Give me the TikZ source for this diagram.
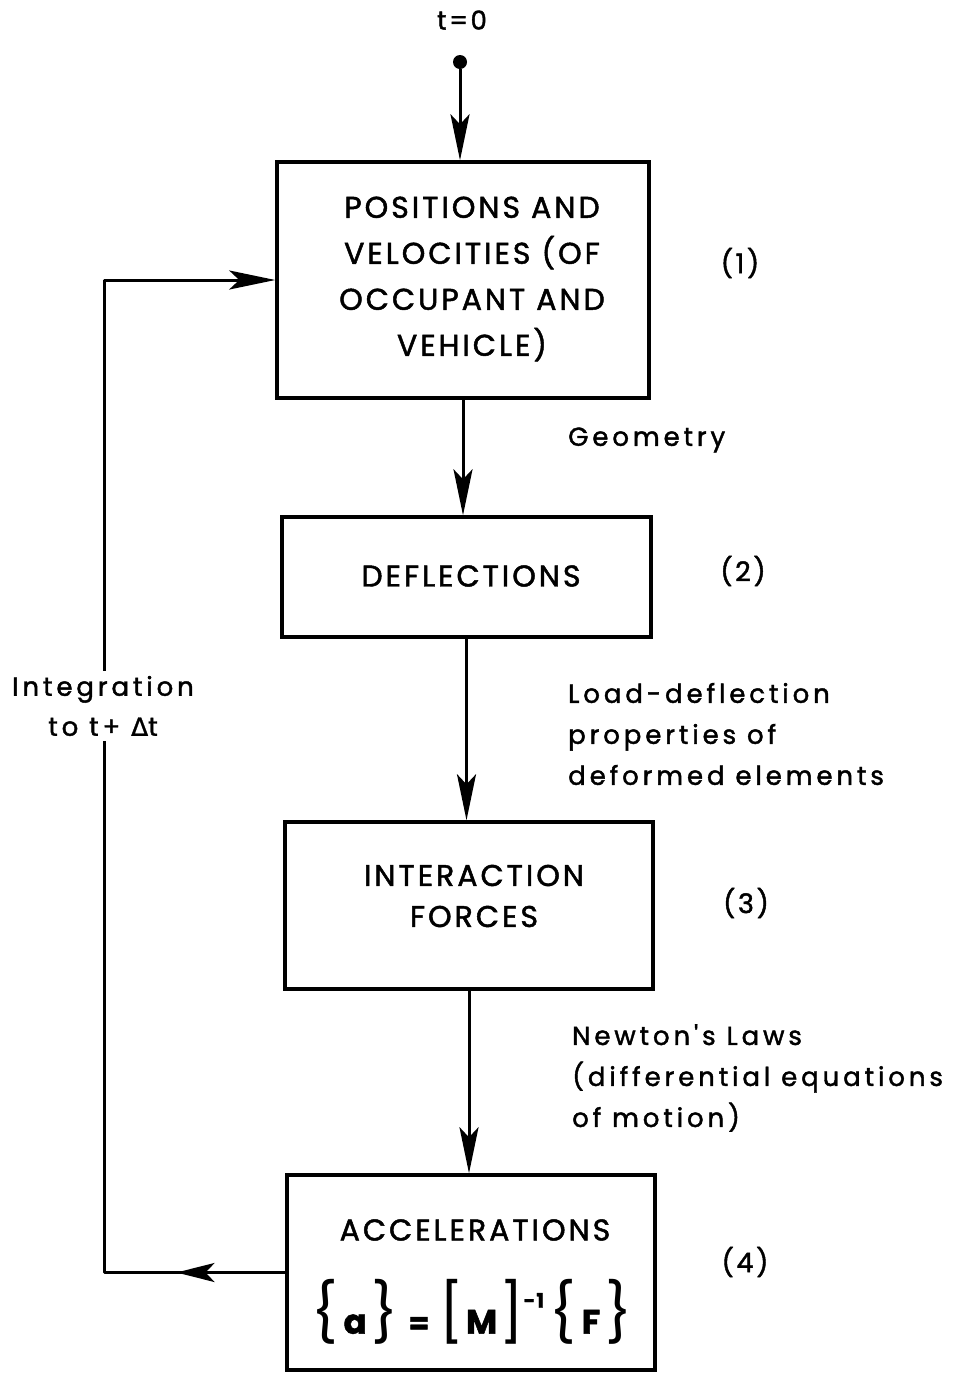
\documentclass[tikz,border=0pt]{standalone}
\usepackage{fontspec}
\setmainfont{Poppins}[LetterSpace=6, FakeBold=1.5]
\newfontfamily\boxfont{Poppins}[LetterSpace=10, FakeBold=1.6]
\newfontfamily\labfont{Poppins}[LetterSpace=15, FakeBold=1.6]
\newfontfamily\delimfont{Poppins}
\newfontfamily\greekfont{DejaVu Sans}[FakeBold=1.2]
\usetikzlibrary{arrows.meta,decorations.markings}
\begin{document}
\begin{tikzpicture}[x=1pt,y=-1pt,
  box/.style={draw, line width=3.5pt, inner sep=0pt},
  boxtext/.style={align=center, inner sep=0pt, font=\boxfont\fontsize{30}{46}\selectfont},
  lab/.style={align=left, anchor=west, inner sep=0pt, font=\labfont\fontsize{26}{41}\selectfont},
  num/.style={inner sep=0pt, font=\boxfont\fontsize{27}{34}\selectfont},
  conn/.style={line width=3pt},
  tip/.style={-{Stealth[length=46pt,width=19pt,inset=10pt]}},
  midtip/.style={decoration={markings, mark=at position 0.6 with {\arrow[line width=3pt]{Stealth[length=38pt,width=19pt,inset=9pt]}}}, decorate}]
\useasboundingbox (0,0) rectangle (959,1374);

% boxes
\node[box, minimum width=372pt, minimum height=236pt] (b1) at (463,280) {};
\node[box, minimum width=369pt, minimum height=120pt] (b2) at (466.5,577) {};
\node[box, minimum width=368pt, minimum height=167pt] (b3) at (469,905.5) {};
\node[box, minimum width=368pt, minimum height=195pt] (b4) at (471,1272.5) {};

% box texts
\node[boxtext] (t1) at (472,279) {POSITIONS AND\\VELOCITIES (OF\\OCCUPANT AND\\VEHICLE)};
\node[boxtext] (t2) at (471,576) {DEFLECTIONS};
\node[boxtext, font=\boxfont\fontsize{30}{41}\selectfont] (t3) at (474,896) {INTERACTION\\FORCES};
\node[boxtext] (t4a) at (475,1230) {ACCELERATIONS};
\node[inner sep=0pt] (t4b) at (472,1312)
  {{\delimfont\fontsize{58}{58}\selectfont\{}\hspace{5pt}%
   {\fontsize{34}{40}\selectfont\bfseries a}\hspace{5pt}%
   {\delimfont\fontsize{58}{58}\selectfont\}}\hspace{10pt}%
   {\fontsize{30}{40}\selectfont\bfseries =}\hspace{10pt}%
   {\delimfont\fontsize{58}{58}\selectfont[}\hspace{2pt}%
   {\fontsize{34}{40}\selectfont\bfseries M}\hspace{2pt}%
   {\delimfont\fontsize{58}{58}\selectfont]}%
   \raisebox{26pt}{\fontsize{20}{20}\selectfont\bfseries -1}\hspace{6pt}%
   {\delimfont\fontsize{58}{58}\selectfont\{}\hspace{5pt}%
   {\fontsize{34}{40}\selectfont\bfseries F}\hspace{5pt}%
   {\delimfont\fontsize{58}{58}\selectfont\}}};

% numbers
\node[num] (n1) at (740,263) {(1)};
\node[num] (n2) at (743,571) {(2)};
\node[num] (n3) at (746,903) {(3)};
\node[num] (n4) at (745,1262) {(4)};

% start
\node[inner sep=0pt, font=\boxfont\fontsize{26}{30}\selectfont] (t0) at (462,20) {t=0};
\node[circle, fill, inner sep=0pt, minimum size=14pt] (dot) at (460,62) {};

% labels
\node[lab] (lg) at (568,440) {Geometry};
\node[lab] (ll) at (568,734) {Load-deflection\\properties of\\deformed elements};
\node[lab] (ln) at (572,1078) {Newton's Laws\\(differential equations\\of motion)};
\node[inner sep=5pt, align=center, font=\labfont\fontsize{26}{40}\selectfont] (li) at (103,706) {Integration\\to t+ {\greekfont\fontsize{25}{30}\selectfont Δ}t};

% connectors
\draw[conn,tip] (dot) -- (dot |- b1.north);
\draw[conn,tip] (b1.south) -- (b1.south |- b2.north);
\draw[conn,tip] (b2.south) -- (b2.south |- b3.north);
\draw[conn,tip] (b3.south) -- (b3.south |- b4.north);

\coordinate (cBL) at (104,1272.5);
\coordinate (cTL) at (104,280);
\draw[conn, line join=round] (b4.west) -- (cBL) -- (li.south -| cBL);
\path[midtip] (b4.west) -- (cBL);
\draw[conn, line join=round, tip] (li.north -| cTL) -- (cTL) -- (b1.west);
\end{tikzpicture}
\end{document}
